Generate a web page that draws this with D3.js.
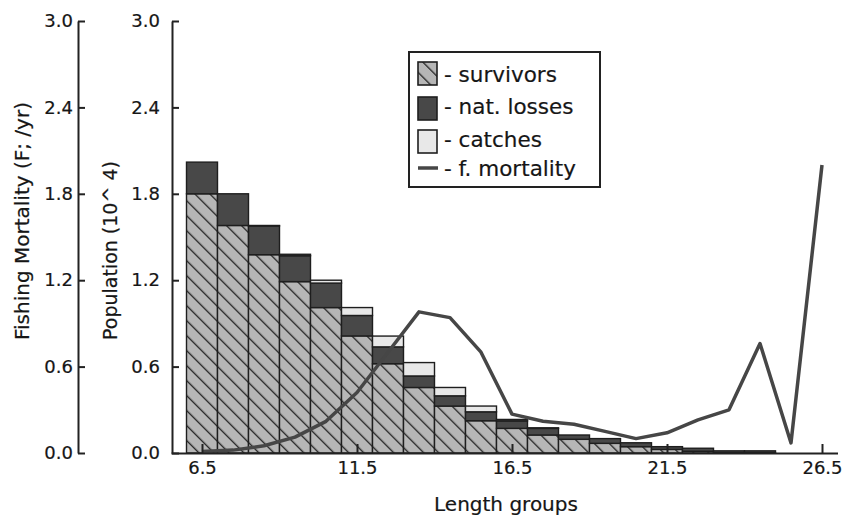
<!DOCTYPE html>
<html>
<head>
<meta charset="utf-8">
<script src="https://cdn.jsdelivr.net/npm/d3@7/dist/d3.min.js"></script>
<style>
  html, body { margin: 0; padding: 0; background: #fff; }
  svg { display: block; }
  text { font-family: "DejaVu Sans", sans-serif; fill: #161616; stroke: #161616; stroke-width: 0.2px; }
</style>
</head>
<body>
<svg id="chart" width="851" height="520"></svg>
<script>
// ---- data ----
const lengths    = [6.5, 7.5, 8.5, 9.5, 10.5, 11.5, 12.5, 13.5, 14.5, 15.5, 16.5, 17.5, 18.5, 19.5, 20.5, 21.5, 22.5, 23.5, 24.5, 25.5, 26.5];
const survivors  = [1.80, 1.58, 1.377, 1.19, 1.01, 0.813, 0.62, 0.455, 0.326, 0.224, 0.171, 0.125, 0.095, 0.067, 0.044, 0.025, 0.012, 0.003, 0.003, 0, 0];
const natLosses  = [0.22, 0.22, 0.20, 0.18, 0.17, 0.142, 0.117, 0.08, 0.071, 0.062, 0.052, 0.046, 0.03, 0.033, 0.027, 0.019, 0.021, 0.012, 0.012, 0, 0];
const catches    = [0, 0, 0.003, 0.01, 0.02, 0.055, 0.075, 0.093, 0.058, 0.04, 0.01, 0.004, 0, 0, 0, 0, 0, 0, 0, 0, 0];
const fMortality = [0.01, 0.02, 0.05, 0.11, 0.22, 0.42, 0.70, 0.98, 0.94, 0.70, 0.27, 0.22, 0.20, 0.15, 0.10, 0.14, 0.23, 0.30, 0.76, 0.07, 2.00];
const xTicks = [6.5, 11.5, 16.5, 21.5, 26.5];
const yTicks = [0, 0.6, 1.2, 1.8, 2.4, 3.0];
const legendLabels = ["- survivors", "- nat. losses", "- catches", "- f. mortality"];

const svg = d3.select("#chart");

const x = d3.scaleLinear().domain([5.5, 27]).range([171, 837.5]);
const y = d3.scaleLinear().domain([0, 3]).range([453, 21]);
const yF = d3.scaleLinear().domain([0, 3]).range([453, 21]);

// hatch pattern
const defs = svg.append("defs");
const pat = defs.append("pattern")
  .attr("id", "hatch").attr("patternUnits", "userSpaceOnUse")
  .attr("width", 10.6).attr("height", 20)
  .attr("patternTransform", "rotate(-45)");
pat.append("rect").attr("width", 10.6).attr("height", 20).attr("fill", "#b6b6b6");
pat.append("line").attr("x1", 0.6).attr("y1", 0).attr("x2", 0.6).attr("y2", 20)
  .attr("stroke", "#222").attr("stroke-width", 1.4);

// stacked bars
const rows = lengths.map((l, i) => ({ l, s: survivors[i], n: natLosses[i], c: catches[i] }));
const series = [
  { key: "s", fill: "url(#hatch)" },
  { key: "n", fill: "#484848" },
  { key: "c", fill: "#e8e8e8" }
];
const stack = d3.stack().keys(series.map(d => d.key))(rows);
const gBars = svg.append("g");
stack.forEach((layer, li) => {
  gBars.append("g").selectAll("rect")
    .data(layer.filter(d => d[1] - d[0] > 0))
    .join("rect")
    .attr("x", d => x(d.data.l - 0.5))
    .attr("width", d => x(d.data.l + 0.5) - x(d.data.l - 0.5))
    .attr("y", d => y(d[1]))
    .attr("height", d => y(d[0]) - y(d[1]))
    .attr("fill", series[li].fill)
    .attr("stroke", "#1e1e1e")
    .attr("stroke-width", 1.4);
});

// fishing mortality line
const line = d3.line().x((d, i) => x(lengths[i])).y(d => yF(d));
svg.append("path").datum(fMortality)
  .attr("d", line).attr("fill", "none")
  .attr("stroke", "#464646").attr("stroke-width", 3.5)
  .attr("stroke-linejoin", "round");

// axes
function styleAxis(g) {
  g.select(".domain").attr("stroke", "#222").attr("stroke-width", 2);
  g.selectAll(".tick line").attr("stroke", "#222").attr("stroke-width", 2);
  g.selectAll(".tick text").style("font-size", "18px");
}
const fmt = d3.format(".1f");

svg.append("g").attr("transform", "translate(0,453)")
  .call(d3.axisBottom(x).tickValues(xTicks).tickFormat(fmt).tickSizeInner(-9).tickSizeOuter(0).tickPadding(8))
  .call(styleAxis);

svg.append("g").attr("transform", "translate(172,0)")
  .call(d3.axisLeft(y).tickValues(yTicks).tickFormat(fmt).tickSizeInner(-7).tickSizeOuter(0).tickPadding(12))
  .call(styleAxis);

svg.append("g").attr("transform", "translate(78,0)")
  .call(d3.axisLeft(yF).tickValues(yTicks).tickFormat(fmt).tickSizeInner(-7).tickSizeOuter(0).tickPadding(5))
  .call(styleAxis);

svg.selectAll(".tick text").attr("fill", null);
svg.selectAll("g[font-family]").attr("font-family", null).attr("font-size", null);

// axis titles
svg.append("text").attr("transform", "translate(29,340) rotate(-90)")
  .style("font-size", "20px").text("Fishing Mortality (F; /yr)");
svg.append("text").attr("transform", "translate(117,340) rotate(-90)")
  .style("font-size", "19px").text("Population (10^ 4)");
svg.append("text").attr("x", 506).attr("y", 511).attr("text-anchor", "middle")
  .style("font-size", "20px").text("Length groups");

// legend
const lg = svg.append("g");
lg.append("rect").attr("x", 409).attr("y", 52).attr("width", 191).attr("height", 135)
  .attr("fill", "#fff").attr("stroke", "#222").attr("stroke-width", 2);
const swFills = ["url(#hatch)", "#484848", "#e8e8e8"];
const swY = [62, 97, 130];
swFills.forEach((f, i) => {
  lg.append("rect").attr("x", 418).attr("y", swY[i]).attr("width", 19).attr("height", 23)
    .attr("fill", f).attr("stroke", "#1e1e1e").attr("stroke-width", 1.6);
});
lg.append("line").attr("x1", 418).attr("x2", 438).attr("y1", 168).attr("y2", 168)
  .attr("stroke", "#464646").attr("stroke-width", 3.5);
const baselines = [82, 114, 147, 176];
legendLabels.forEach((t, i) => {
  lg.append("text").attr("x", 444).attr("y", baselines[i]).style("font-size", "21.5px").text(t);
});
</script>
</body>
</html>
